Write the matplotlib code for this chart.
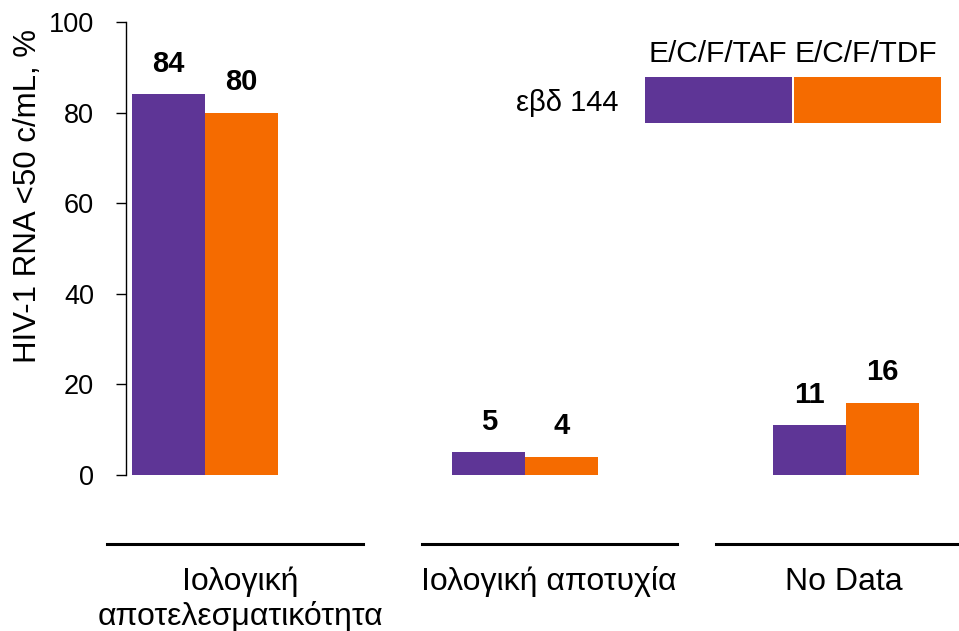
import matplotlib
matplotlib.use("Agg")
import matplotlib.pyplot as plt
from matplotlib.patches import Rectangle
from matplotlib.lines import Line2D

plt.rcParams['font.family'] = ['Liberation Sans', 'DejaVu Sans']

categories = ["Ιολογική\nαποτελεσματικότητα", "Ιολογική αποτυχία", "No Data"]
series_names = ["E/C/F/TAF", "E/C/F/TDF"]
taf_values = [84, 5, 11]
tdf_values = [80, 4, 16]
legend_title = "εβδ 144"
y_label = "HIV-1 RNA <50 c/mL, %"
y_ticks = [0, 20, 40, 60, 80, 100]

PURPLE = "#5E3596"
ORANGE = "#F56B00"

W, H = 959, 631
fig = plt.figure(figsize=(W / 100, H / 100), dpi=100)

def fx(px):
    return px / W

def fy(py):
    return 1 - py / H

ax = fig.add_axes([fx(126), fy(475), fx(950) - fx(126), fy(22) - fy(475)])

x = list(range(len(categories)))
bw = 0.228
b1 = ax.bar([i - bw / 2 for i in x], taf_values, width=bw, color=PURPLE, edgecolor='none')
b2 = ax.bar([i + bw / 2 for i in x], tdf_values, width=bw, color=ORANGE, edgecolor='none')

for bars, vals in ((b1, taf_values), (b2, tdf_values)):
    for rect, v in zip(bars, vals):
        ax.annotate(f"{v}", (rect.get_x() + rect.get_width() / 2, v),
                    xytext=(0, 12), textcoords='offset points',
                    ha='center', va='bottom', fontsize=21, fontweight='bold')

ax.set_xlim(-0.246, 2.325)
ax.set_ylim(0, 100)
ax.set_yticks(y_ticks)
ax.tick_params(axis='y', labelsize=19.5, length=7, width=1, direction='out', pad=16)
ax.set_xticks([])
for s in ('top', 'right', 'bottom'):
    ax.spines[s].set_visible(False)
ax.spines['left'].set_linewidth(1)

fig.text(fx(28.5), fy(196), y_label, rotation=90, ha='center', va='center',
         fontsize=22.5)

# category underlines and labels
line_spans = [(107, 363), (422, 677), (716, 959)]
label_centers = [240, 549, 844]
for (x0, x1), cx, lab in zip(line_spans, label_centers, categories):
    fig.add_artist(Line2D([fx(x0), fx(x1)], [fy(544), fy(544)],
                          color='black', linewidth=2.2))
    for k, part in enumerate(lab.split("\n")):
        fig.text(fx(cx), fy(590 + 35 * k), part, ha='center', va='baseline',
                 fontsize=23)

# legend block
rect_specs = [(645, 792, PURPLE), (794, 941, ORANGE)]
name_centers = [718, 866]
for (x0, x1, col), cx, name in zip(rect_specs, name_centers, series_names):
    fig.add_artist(Rectangle((fx(x0), fy(123)), fx(x1) - fx(x0), fy(77) - fy(123),
                             facecolor=col, edgecolor='none',
                             transform=fig.transFigure))
    fig.text(fx(cx), fy(62), name, ha='center', va='baseline', fontsize=21.5)
fig.text(fx(619), fy(111), legend_title, ha='right', va='baseline', fontsize=21)

fig.savefig("out.png", dpi=100)
